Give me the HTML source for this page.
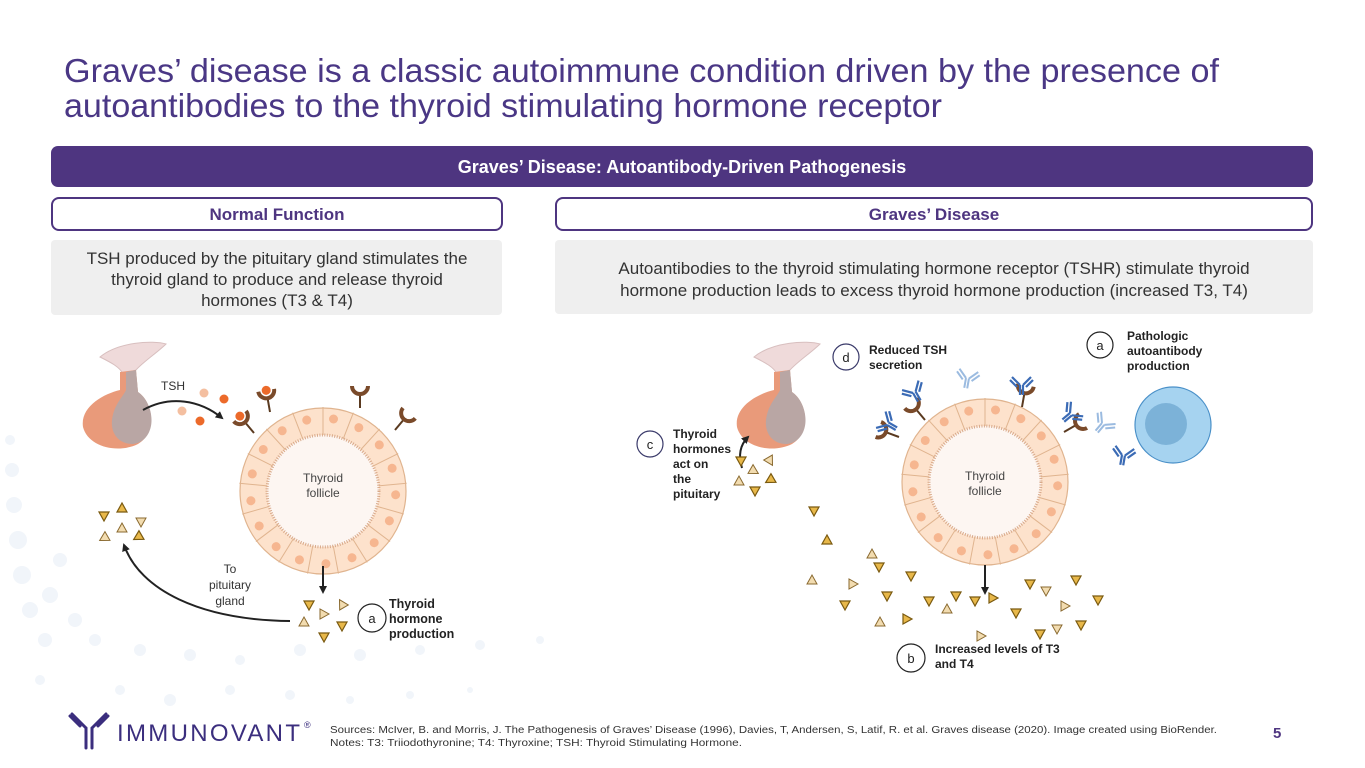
<!DOCTYPE html>
<html><head><meta charset="utf-8"><style>
html,body{margin:0;padding:0;background:#fff;width:1365px;height:768px;overflow:hidden}
svg{display:block;font-family:"Liberation Sans",Arial,sans-serif}
</style></head><body>
<svg width="1365" height="768" viewBox="0 0 1365 768">
<defs>
<g id="cell">
  <line x1="0" y1="-56" x2="0" y2="-84" stroke="#e0b48f" stroke-width="1"/>
  <circle cx="10.5" cy="-72" r="4.5" fill="#f6b690"/>
</g>
<g id="fol">
  <circle r="83" fill="#fde2cc" stroke="#e0b48f" stroke-width="1.2"/>
  <circle r="56" fill="#fdf6f2" stroke="#d8a98a" stroke-width="3" stroke-dasharray="1 1.5"/>
  <use href="#cell" transform="rotate(0)"/><use href="#cell" transform="rotate(21.2)"/><use href="#cell" transform="rotate(42.4)"/><use href="#cell" transform="rotate(63.5)"/><use href="#cell" transform="rotate(84.7)"/><use href="#cell" transform="rotate(105.9)"/><use href="#cell" transform="rotate(127)"/><use href="#cell" transform="rotate(148.2)"/><use href="#cell" transform="rotate(169.4)"/><use href="#cell" transform="rotate(190.6)"/><use href="#cell" transform="rotate(211.8)"/><use href="#cell" transform="rotate(233)"/><use href="#cell" transform="rotate(254)"/><use href="#cell" transform="rotate(275.3)"/><use href="#cell" transform="rotate(296.5)"/><use href="#cell" transform="rotate(317.6)"/><use href="#cell" transform="rotate(338.8)"/>
</g>
<g id="pit">
  <path d="M-28,-55 C-10,-70 25,-72 38,-68 C30,-60 15,-50 8,-42 L-5,-38 C-8,-45 -18,-50 -28,-55Z" fill="#efdada" stroke="#d8bfbf"/>
  <path d="M-8,-40 L8,-42 L10,-20 C25,-10 30,20 10,32 C-10,42 -40,35 -45,15 C-48,-5 -25,-18 -8,-22Z" fill="#e99a7a"/>
  <path d="M-2,-40 L8,-42 L10,-20 C25,-10 30,20 12,30 C0,36 -18,28 -16,8 C-14,-8 -5,-15 -2,-22Z" fill="#b9a6a4"/>
</g>
<polygon id="tri" points="-5,-4 5,-4 0,5" fill="#e8b84a" stroke="#7a5a10" stroke-width="1.2"/>
<polygon id="tril" points="-5,-4 5,-4 0,5" fill="#f2dcb0" stroke="#8a6a30" stroke-width="1"/>
<g id="rec"><line x1="0" y1="0" x2="0" y2="-14" stroke="#5a3a20" stroke-width="2"/><path d="M-8,-22 A8,8 0 0 0 8,-22" fill="none" stroke="#7a4a2a" stroke-width="4"/></g>
<g id="ab" stroke="#3b6bb5" stroke-width="2.2" fill="none"><path d="M0,0 V10 M3,0 V10 M0,0 L-8,-8 M-3,2 L-10,-5 M3,0 L11,-8 M6,2 L13,-5"/></g>
<g id="abl" stroke="#9bbbe0" stroke-width="2" fill="none"><path d="M0,0 V10 M3,0 V10 M0,0 L-8,-8 M-3,2 L-10,-5 M3,0 L11,-8 M6,2 L13,-5"/></g>
<marker id="ar" markerWidth="8" markerHeight="8" refX="6" refY="4" orient="auto" markerUnits="userSpaceOnUse"><path d="M0,0 L8,4 L0,8Z" fill="#222"/></marker>
</defs>

<!-- background dots -->
<g fill="#f1f5fa">
<circle cx="10" cy="440" r="5"/><circle cx="12" cy="470" r="7"/><circle cx="14" cy="505" r="8"/><circle cx="18" cy="540" r="9"/><circle cx="22" cy="575" r="9"/><circle cx="30" cy="610" r="8"/><circle cx="45" cy="640" r="7"/><circle cx="60" cy="560" r="7"/><circle cx="50" cy="595" r="8"/><circle cx="75" cy="620" r="7"/><circle cx="95" cy="640" r="6"/><circle cx="140" cy="650" r="6"/><circle cx="190" cy="655" r="6"/><circle cx="240" cy="660" r="5"/><circle cx="300" cy="650" r="6"/><circle cx="360" cy="655" r="6"/><circle cx="420" cy="650" r="5"/><circle cx="480" cy="645" r="5"/><circle cx="540" cy="640" r="4"/><circle cx="120" cy="690" r="5"/><circle cx="170" cy="700" r="6"/><circle cx="230" cy="690" r="5"/><circle cx="290" cy="695" r="5"/><circle cx="350" cy="700" r="4"/><circle cx="410" cy="695" r="4"/><circle cx="470" cy="690" r="3"/><circle cx="40" cy="680" r="5"/>
</g>

<!-- title -->
<g fill="#4a3785" font-size="33">
<text x="64" y="82" textLength="1155" lengthAdjust="spacingAndGlyphs">Graves’ disease is a classic autoimmune condition driven by the presence of</text>
<text x="64" y="117" textLength="878" lengthAdjust="spacingAndGlyphs">autoantibodies to the thyroid stimulating hormone receptor</text>
</g>

<!-- banner -->
<rect x="51" y="146" width="1262" height="41" rx="7" fill="#4e3580"/>
<text x="682" y="173" text-anchor="middle" fill="#fff" font-weight="bold" font-size="18">Graves’ Disease: Autoantibody-Driven Pathogenesis</text>

<rect x="52" y="198" width="450" height="32" rx="7" fill="#fff" stroke="#4e3580" stroke-width="2"/>
<text x="277" y="220" text-anchor="middle" fill="#4e3580" font-weight="bold" font-size="17">Normal Function</text>
<rect x="556" y="198" width="756" height="32" rx="7" fill="#fff" stroke="#4e3580" stroke-width="2"/>
<text x="934" y="220" text-anchor="middle" fill="#4e3580" font-weight="bold" font-size="17">Graves’ Disease</text>

<rect x="51" y="240" width="451" height="75" rx="4" fill="#efefef"/>
<g font-size="17" fill="#333" text-anchor="middle">
<text x="277" y="264">TSH produced by the pituitary gland stimulates the</text>
<text x="277" y="285">thyroid gland to produce and release thyroid</text>
<text x="277" y="306">hormones (T3 &amp; T4)</text>
</g>
<rect x="555" y="240" width="758" height="74" rx="4" fill="#efefef"/>
<g font-size="17" fill="#333" text-anchor="middle">
<text x="934" y="274">Autoantibodies to the thyroid stimulating hormone receptor (TSHR) stimulate thyroid</text>
<text x="934" y="296">hormone production leads to excess thyroid hormone production (increased T3, T4)</text>
</g>

<!-- LEFT diagram -->
<use href="#fol" x="323" y="491"/>
<text x="323" y="482" text-anchor="middle" font-size="12" fill="#444">Thyroid</text>
<text x="323" y="497" text-anchor="middle" font-size="12" fill="#444">follicle</text>
<use href="#pit" x="128" y="412"/>
<text x="161" y="390" font-size="12" fill="#333">TSH</text>
<path d="M143,410 C170,395 200,400 222,418" fill="none" stroke="#222" stroke-width="2" marker-end="url(#ar)"/>
<circle cx="204" cy="393" r="4.5" fill="#f4bfa0"/><circle cx="224" cy="399" r="4.5" fill="#ec6a2a"/><circle cx="182" cy="411" r="4.5" fill="#f4bfa0"/><circle cx="200" cy="421" r="4.5" fill="#ec6a2a"/>
<g transform="translate(254,433) rotate(-40)"><use href="#rec"/><circle cx="0" cy="-22" r="4.5" fill="#ec6a2a"/></g>
<g transform="translate(270,412) rotate(-10)"><use href="#rec"/><circle cx="0" cy="-22" r="4.5" fill="#ec6a2a"/></g>
<g transform="translate(360,408)"><use href="#rec"/></g>
<g transform="translate(395,430) rotate(40)"><use href="#rec"/></g>
<line x1="323" y1="566" x2="323" y2="592" stroke="#222" stroke-width="2" marker-end="url(#ar)"/>
<path d="M290,621 C200,620 140,590 124,545" fill="none" stroke="#222" stroke-width="2" marker-end="url(#ar)"/>
<g font-size="12" fill="#333" text-anchor="middle"><text x="230" y="573">To</text><text x="230" y="589">pituitary</text><text x="230" y="605">gland</text></g>
<use href="#tri" transform="translate(104,516)"/><use href="#tri" transform="translate(122,508) rotate(180)"/><use href="#tril" transform="translate(141,522)"/><use href="#tril" transform="translate(122,528) rotate(180)"/><use href="#tril" transform="translate(104,538) rotate(60)"/><use href="#tri" transform="translate(138,537) rotate(60)"/>
<use href="#tri" transform="translate(309,605)"/><use href="#tril" transform="translate(342,604) rotate(150)"/><use href="#tril" transform="translate(324,614) rotate(-90)"/><use href="#tril" transform="translate(304,622) rotate(180)"/><use href="#tri" transform="translate(342,626)"/><use href="#tri" transform="translate(324,637)"/>
<circle cx="372" cy="618" r="14" fill="#fff" stroke="#222" stroke-width="1.2"/><text x="372" y="623" text-anchor="middle" font-size="13" fill="#222">a</text>
<g font-size="12.5" font-weight="bold" fill="#222"><text x="389" y="608">Thyroid</text><text x="389" y="623">hormone</text><text x="389" y="638">production</text></g>

<!-- RIGHT diagram -->
<use href="#fol" x="985" y="482"/>
<text x="985" y="480" text-anchor="middle" font-size="12" fill="#444">Thyroid</text>
<text x="985" y="495" text-anchor="middle" font-size="12" fill="#444">follicle</text>
<use href="#pit" x="782" y="412"/>
<path d="M742,468 C738,455 740,445 748,437" fill="none" stroke="#222" stroke-width="2" marker-end="url(#ar)"/>
<circle cx="650" cy="444" r="13" fill="#fff" stroke="#3a3a6a" stroke-width="1.2"/><text x="650" y="449" text-anchor="middle" font-size="13" fill="#222">c</text>
<g font-size="12" font-weight="bold" fill="#222"><text x="673" y="438">Thyroid</text><text x="673" y="453">hormones</text><text x="673" y="468">act on</text><text x="673" y="483">the</text><text x="673" y="498">pituitary</text></g>
<circle cx="846" cy="357" r="13" fill="#fff" stroke="#3a3a6a" stroke-width="1.2"/><text x="846" y="362" text-anchor="middle" font-size="13" fill="#222">d</text>
<g font-size="12" font-weight="bold" fill="#222"><text x="869" y="354">Reduced TSH</text><text x="869" y="369">secretion</text></g>
<circle cx="1100" cy="345" r="13" fill="#fff" stroke="#222" stroke-width="1.2"/><text x="1100" y="350" text-anchor="middle" font-size="13" fill="#222">a</text>
<g font-size="12" font-weight="bold" fill="#222"><text x="1127" y="340">Pathologic</text><text x="1127" y="355">autoantibody</text><text x="1127" y="370">production</text></g>
<circle cx="1173" cy="425" r="38" fill="#a6d3f0" stroke="#4a90c8" stroke-width="1.2"/>
<circle cx="1166" cy="424" r="21" fill="#7cb2d8"/>
<g transform="translate(925,420) rotate(-40)"><use href="#rec"/></g>
<g transform="translate(899,437) rotate(-70)"><use href="#rec"/></g>
<g transform="translate(1022,407) rotate(10)"><use href="#rec"/></g>
<g transform="translate(1064,432) rotate(60)"><use href="#rec"/></g>
<use href="#ab" transform="translate(913,393) rotate(-30)"/>
<use href="#ab" transform="translate(887,425) rotate(-60)"/>
<use href="#ab" transform="translate(1020,385)"/>
<use href="#ab" transform="translate(1070,413) rotate(50)"/>
<use href="#ab" transform="translate(1122,455) rotate(10)"/>
<use href="#abl" transform="translate(966,378) rotate(10)"/>
<use href="#abl" transform="translate(1102,423) rotate(40)"/>
<line x1="985" y1="565" x2="985" y2="593" stroke="#222" stroke-width="2" marker-end="url(#ar)"/>
<g>
<use href="#tri" transform="translate(741,461)"/><use href="#tril" transform="translate(754,471) rotate(-60)"/><use href="#tril" transform="translate(770,461) rotate(-30)"/><use href="#tril" transform="translate(739,481) rotate(180)"/><use href="#tri" transform="translate(770,480) rotate(60)"/><use href="#tri" transform="translate(755,491)"/>
<use href="#tri" transform="translate(814,511)"/><use href="#tri" transform="translate(827,540) rotate(180)"/><use href="#tril" transform="translate(872,554) rotate(180)"/><use href="#tril" transform="translate(812,580) rotate(180)"/><use href="#tri" transform="translate(879,567)"/><use href="#tril" transform="translate(853,584) rotate(-90)"/><use href="#tri" transform="translate(911,576)"/><use href="#tri" transform="translate(887,596)"/><use href="#tri" transform="translate(845,605)"/><use href="#tril" transform="translate(880,622) rotate(180)"/><use href="#tri" transform="translate(907,619) rotate(-90)"/><use href="#tri" transform="translate(929,601)"/><use href="#tril" transform="translate(947,609) rotate(180)"/><use href="#tri" transform="translate(956,596)"/><use href="#tri" transform="translate(975,601)"/><use href="#tri" transform="translate(993,598) rotate(-90)"/><use href="#tri" transform="translate(1030,584)"/><use href="#tril" transform="translate(1046,591)"/><use href="#tri" transform="translate(1016,613)"/><use href="#tril" transform="translate(1065,606) rotate(-90)"/><use href="#tri" transform="translate(1076,580)"/><use href="#tri" transform="translate(1098,600)"/><use href="#tri" transform="translate(1040,634)"/><use href="#tri" transform="translate(1081,625)"/><use href="#tril" transform="translate(1057,629)"/><use href="#tril" transform="translate(981,636) rotate(-90)"/>
</g>
<circle cx="911" cy="658" r="14" fill="#fff" stroke="#222" stroke-width="1.2"/><text x="911" y="663" text-anchor="middle" font-size="13" fill="#222">b</text>
<g font-size="12" font-weight="bold" fill="#222"><text x="935" y="653">Increased levels of T3</text><text x="935" y="668">and T4</text></g>

<!-- logo -->
<g stroke="#3b2e7e" stroke-width="3" fill="none" stroke-linecap="round">
<path d="M86,728 V748 M92,728 V748 M86,728 L72,714 M80,726 L70,716 M92,728 L106,714 M98,726 L108,716"/>
</g>
<text x="117" y="741" font-size="24" fill="#3b2e7e" textLength="183" lengthAdjust="spacing">IMMUNOVANT</text>
<text x="304" y="728" font-size="9" fill="#3b2e7e">®</text>
<g font-size="10" fill="#333">
<text x="330" y="733" textLength="887" lengthAdjust="spacingAndGlyphs">Sources: McIver, B. and Morris, J. The Pathogenesis of Graves’ Disease (1996), Davies, T, Andersen, S, Latif, R. et al. Graves disease (2020). Image created using BioRender.</text>
<text x="330" y="746" textLength="412" lengthAdjust="spacingAndGlyphs">Notes: T3: Triiodothyronine; T4: Thyroxine; TSH: Thyroid Stimulating Hormone.</text>
</g>
<text x="1273" y="738" font-size="15" font-weight="bold" fill="#4e3580">5</text>
</svg>
</body></html>
